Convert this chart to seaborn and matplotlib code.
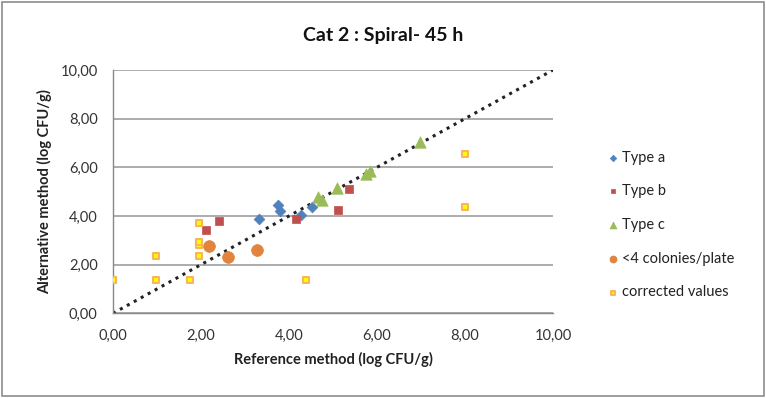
import matplotlib
matplotlib.use("Agg")
import matplotlib.pyplot as plt
import seaborn as sns
import pandas as pd
from matplotlib.patches import Rectangle

sns.set_theme(style="white")
plt.rcParams["font.family"] = ["Lato", "DejaVu Sans"]

# Measurements (log CFU/g): reference method vs alternative method
type_a_ref = [3.31, 3.74, 3.80, 4.28, 4.52]
type_a_alt = [3.89, 4.46, 4.22, 4.06, 4.35]

type_b_ref = [2.12, 2.40, 4.15, 5.12, 5.36]
type_b_alt = [3.44, 3.79, 3.89, 4.24, 5.09]

type_c_ref = [4.66, 4.74, 5.08, 5.74, 5.83, 6.97]
type_c_alt = [4.77, 4.66, 5.17, 5.73, 5.84, 7.06]

few_col_ref = [2.18, 2.62, 3.27]
few_col_alt = [2.77, 2.30, 2.59]

corrected_ref = [0.00, 0.97, 1.74, 4.39, 0.97, 1.96, 1.96, 1.96, 1.96, 7.99, 7.99]
corrected_alt = [1.36, 1.36, 1.36, 1.36, 2.37, 2.37, 2.81, 2.95, 3.73, 6.55, 4.35]

ticks = [0, 2, 4, 6, 8, 10]
tick_labels = ["0,00", "2,00", "4,00", "6,00", "8,00", "10,00"]

series = [
    ("Type a", type_a_ref, type_a_alt, dict(marker="D", s=30, color="#4F81BD", edgecolor="#4F81BD")),
    ("Type b", type_b_ref, type_b_alt, dict(marker="s", s=34, color="#C0504D", edgecolor="#C0504D")),
    ("Type c", type_c_ref, type_c_alt, dict(marker="^", s=68, color="#9BBB59", edgecolor="#9BBB59")),
    ("<4 colonies/plate", few_col_ref, few_col_alt, dict(marker="o", s=72, color="#E2843D", edgecolor="#E2843D")),
    ("corrected values", corrected_ref, corrected_alt, dict(marker="s", s=20, color="#FFFF00", edgecolor="#F9B55A", linewidth=1.5)),
]

fig = plt.figure(figsize=(7.66, 3.98), dpi=100)
ax = fig.add_axes([113 / 766, 1 - 313.3 / 398, 440 / 766, 243.3 / 398])

for name, xs, ys, kw in series:
    df = pd.DataFrame({"ref": xs, "alt": ys})
    lw = kw.pop("linewidth", 0.5)
    sns.scatterplot(data=df, x="ref", y="alt", ax=ax, label=name, linewidth=lw, zorder=3, **kw)

# Line of identity y = x
line_df = pd.DataFrame({"x": [0, 10], "y": [0, 10]})
sns.lineplot(data=line_df, x="x", y="y", ax=ax, color="#222222", linestyle=(0, (1, 1.6)),
             linewidth=2.2, legend=False, zorder=2)

ax.set_xlim(0, 10)
ax.set_ylim(0, 10)
ax.set_xticks(ticks)
ax.set_xticklabels(tick_labels)
ax.set_yticks(ticks)
ax.set_yticklabels(tick_labels)
ax.yaxis.grid(True, color="#A6A6A6", linewidth=1.3)
ax.xaxis.grid(False)
for side in ["top", "right"]:
    ax.spines[side].set_visible(False)
for side in ["left", "bottom"]:
    ax.spines[side].set_color("#888888")
    ax.spines[side].set_linewidth(1.0)
ax.tick_params(axis="both", which="both", direction="out", length=5, width=1,
               color="#888888", labelsize=10.5, labelcolor="#333333", pad=6)
ax.set_xlabel("Reference method (log CFU/g)", fontsize=10.5, fontweight="bold", color="#222222", labelpad=7)
ax.set_ylabel("Alternative method (log CFU/g)", fontsize=10.5, fontweight="bold", color="#222222", labelpad=6)
ax.set_axisbelow(True)

fig.suptitle("Cat 2 : Spiral- 45 h", x=0.5, y=1 - 36 / 398, va="center",
             fontsize=14, fontweight="bold", color="#111111")

leg = ax.legend(loc="center left", bbox_to_anchor=(600 / 766, 1 - 225 / 398),
                bbox_transform=fig.transFigure, frameon=False, fontsize=10.5,
                labelspacing=1.35, handletextpad=0.1, markerscale=0.6,
                handlelength=1.0, borderaxespad=0)
for t in leg.get_texts():
    t.set_color("#222222")

# Chart area frame
fig.patches.append(Rectangle((0.003, 0.004), 0.994, 0.992, transform=fig.transFigure,
                             fill=False, edgecolor="#8C8C8C", linewidth=1.2))

fig.savefig("out.png", dpi=100)
